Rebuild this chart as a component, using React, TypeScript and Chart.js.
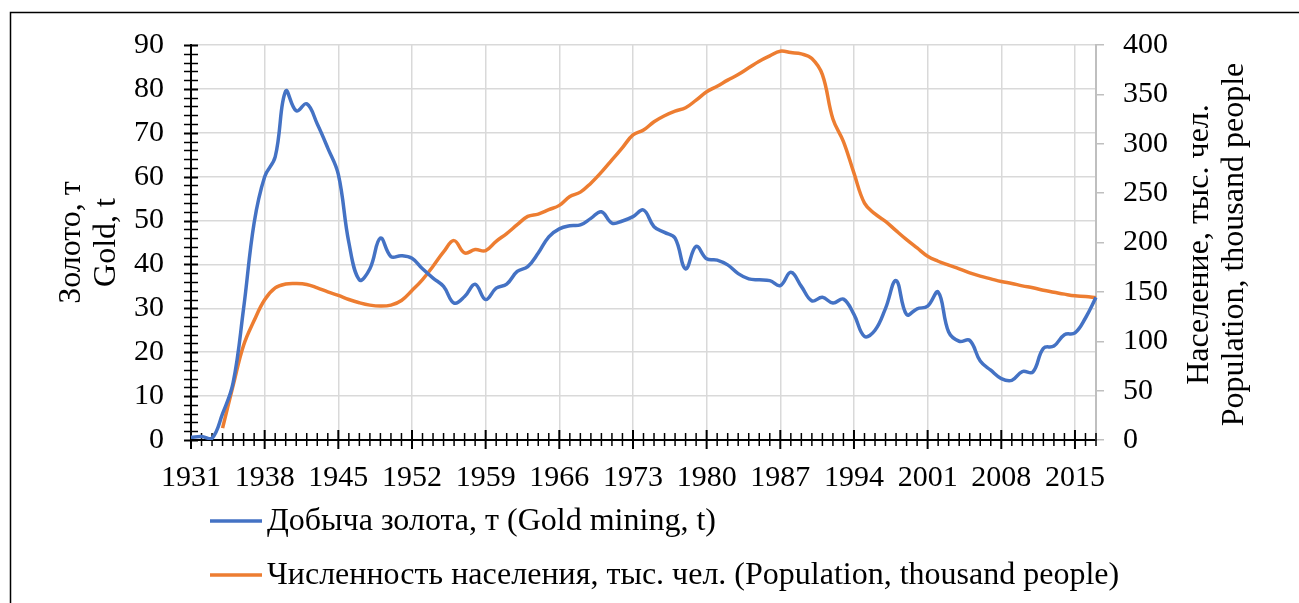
import React, { useEffect, useRef } from 'react';
import { Chart, registerables } from 'chart.js';

Chart.register(...registerables);

const years: string[] = [
  '1931', '1932', '1933', '1934', '1935', '1936', '1937', '1938', '1939', '1940',
  '1941', '1942', '1943', '1944', '1945', '1946', '1947', '1948', '1949', '1950',
  '1951', '1952', '1953', '1954', '1955', '1956', '1957', '1958', '1959', '1960',
  '1961', '1962', '1963', '1964', '1965', '1966', '1967', '1968', '1969', '1970',
  '1971', '1972', '1973', '1974', '1975', '1976', '1977', '1978', '1979', '1980',
  '1981', '1982', '1983', '1984', '1985', '1986', '1987', '1988', '1989', '1990',
  '1991', '1992', '1993', '1994', '1995', '1996', '1997', '1998', '1999', '2000',
  '2001', '2002', '2003', '2004', '2005', '2006', '2007', '2008', '2009', '2010',
  '2011', '2012', '2013', '2014', '2015', '2016', '2017',
];

const goldMining: number[] = [
  0.6, 0.8, 0.4, 6, 13, 30, 49.5, 60, 64.5, 79.5,
  75, 76.6, 72, 66.5, 60.5, 45, 36.5, 39, 46, 41.8,
  42, 41.4, 39, 36.9, 35, 31.2, 32.7, 35.5, 32, 34.6,
  35.5, 38.4, 39.5, 42.6, 46.3, 48.1, 48.8, 49, 50.5, 52,
  49.4, 49.9, 50.9, 52.4, 48.6, 47.3, 46, 39, 44.1, 41.3,
  41, 39.9, 37.9, 36.7, 36.5, 36.3, 35.2, 38.2, 35, 31.7,
  32.5, 31.2, 32.1, 28.6, 23.6, 25, 30, 36.3, 28.6, 29.9,
  30.5, 33.7, 24.6, 22.5, 22.7, 18, 15.9, 14, 13.6, 15.6,
  15.5, 20.9, 21.4, 24, 24.4, 27.8, 32.5,
];

const population: (number | null)[] = [
  null, null, null, 12, 55, 96, 121, 142, 154, 158,
  158.5, 157.5, 154, 150, 146.4, 142.3, 139, 136.6, 135.6, 136.6,
  141.3, 151.4, 162.5, 176, 190.4, 201.9, 189.4, 192.8, 191.8, 201.2,
  209, 218, 226.4, 228.8, 233.2, 237.6, 246.6, 251, 260.1, 271.2,
  283.6, 296.1, 308.9, 313.9, 322.3, 328.4, 333.1, 336.5, 344.2, 352.6,
  358.3, 364.4, 370.1, 376.9, 383.6, 389, 393.7, 392.3, 391, 386.3,
  370, 325, 302.2, 270.2, 239.9, 229, 221.4, 212, 202.9, 194.5,
  186.1, 181, 177, 173.3, 169.2, 165.9, 163.2, 160.5, 158.5, 156.1,
  154.1, 151.7, 149.7, 147.7, 146, 145.4, 144,
];

const seriesLabels: string[] = [
  'Добыча золота, т (Gold mining, t)',
  'Численность населения, тыс. чел. (Population, thousand people)',
];
const leftTitle: string[] = ['Золото, т', 'Gold, t'];
const rightTitle: string[] = ['Население, тыс. чел.', 'Population, thousand people'];

const FONT = "'Liberation Serif', 'Times New Roman', serif";
const BLUE = '#4472C4';
const ORANGE = '#ED7D31';

const decorPlugin = {
  id: 'decor',
  beforeDatasetsDraw(chart: any) {
    const ctx = chart.ctx;
    const xs = chart.scales.x;
    const ys = chart.scales.y;
    const area = chart.chartArea;
    ctx.save();
    ctx.strokeStyle = '#000';
    for (let v = 0; v <= 90; v += 2) {
      const py = Math.round(ys.getPixelForValue(v)) + 0.5;
      const major = v % 10 === 0;
      ctx.lineWidth = major ? 2 : 1.5;
      ctx.beginPath();
      ctx.moveTo(area.left - 7, py);
      ctx.lineTo(area.left + 7, py);
      ctx.stroke();
    }
    for (let i = 0; i < years.length; i++) {
      const px = xs.getPixelForValue(i);
      const major = i % 7 === 0;
      ctx.lineWidth = major ? 2 : 1.5;
      ctx.beginPath();
      ctx.moveTo(px, area.bottom - (major ? 10 : 7));
      ctx.lineTo(px, area.bottom + (major ? 9 : 6));
      ctx.stroke();
    }
    ctx.restore();
  },
  afterDraw(chart: any) {
    const ctx = chart.ctx;
    const area = chart.chartArea;
    ctx.save();
    // outer frame
    ctx.strokeStyle = '#000';
    ctx.lineWidth = 1.5;
    ctx.strokeRect(10.5, 12.5, 1400, 800);

    // axis titles
    ctx.fillStyle = '#000';
    ctx.font = `32px ${FONT}`;
    ctx.textAlign = 'center';
    ctx.textBaseline = 'middle';
    const cy = (area.top + area.bottom) / 2;
    const leftX = [72, 107];
    leftTitle.forEach((t, i) => {
      ctx.save();
      ctx.translate(leftX[i], cy);
      ctx.rotate(-Math.PI / 2);
      ctx.fillText(t, 0, 0);
      ctx.restore();
    });
    const rightX = [1200, 1235];
    rightTitle.forEach((t, i) => {
      ctx.save();
      ctx.translate(rightX[i], cy + 2);
      ctx.rotate(-Math.PI / 2);
      ctx.fillText(t, 0, 0);
      ctx.restore();
    });

    // legend
    const rowsY = [521, 575];
    chart.data.datasets.forEach((ds: any, i: number) => {
      const yy = rowsY[i];
      ctx.strokeStyle = ds.borderColor;
      ctx.lineWidth = 3.5;
      ctx.beginPath();
      ctx.moveTo(210, yy);
      ctx.lineTo(262, yy);
      ctx.stroke();
      ctx.fillStyle = '#000';
      ctx.textAlign = 'left';
      ctx.textBaseline = 'middle';
      ctx.fillText(ds.label, 267, yy + 1);
    });
    ctx.restore();
  },
};

export default function App() {
  const ref = useRef<HTMLCanvasElement>(null);
  useEffect(() => {
    document.body.style.margin = '0';
    const canvas = ref.current!;
    const chart = new Chart(canvas, {
      type: 'line',
      data: {
        labels: years,
        datasets: [
          {
            label: seriesLabels[0],
            data: goldMining,
            borderColor: BLUE,
            backgroundColor: BLUE,
            borderWidth: 3.5,
            pointRadius: 0,
            tension: 0.4,
            yAxisID: 'y',
          },
          {
            label: seriesLabels[1],
            data: population,
            borderColor: ORANGE,
            backgroundColor: ORANGE,
            borderWidth: 3.5,
            pointRadius: 0,
            tension: 0.4,
            yAxisID: 'y1',
          },
        ],
      },
      options: {
        responsive: false,
        animation: false,
        layout: { padding: { top: 43, left: 0, right: 0, bottom: 0 } },
        plugins: {
          legend: { display: false },
          tooltip: { enabled: false },
          title: { display: false },
        },
        scales: {
          x: {
            type: 'category',
            offset: false,
            afterFit: (s: any) => { s.height = 163; },
            grid: {
              color: (c: any) => (c.index % 7 === 0 ? '#d9d9d9' : 'rgba(0,0,0,0)'),
              lineWidth: 1.5,
              drawTicks: false,
            },
            border: { color: '#000', width: 2 },
            ticks: {
              autoSkip: false,
              maxRotation: 0,
              minRotation: 0,
              padding: 20,
              color: '#000',
              font: { family: FONT, size: 30 },
              callback: (_v: any, i: number) => (i % 7 === 0 ? years[i] : ''),
            },
          },
          y: {
            position: 'left',
            min: 0,
            max: 90,
            afterFit: (s: any) => { s.width = 191; },
            grid: { color: '#d9d9d9', lineWidth: 1.5, drawTicks: false },
            border: { color: '#000', width: 2 },
            ticks: {
              stepSize: 10,
              padding: 27,
              color: '#000',
              font: { family: FONT, size: 30 },
            },
          },
          y1: {
            position: 'right',
            min: 0,
            max: 400,
            afterFit: (s: any) => { s.width = 1299 - 1096; },
            grid: { drawOnChartArea: false, drawTicks: true, tickLength: 8, color: '#bfbfbf', lineWidth: 1.5 },
            border: { color: '#bfbfbf', width: 2 },
            ticks: {
              stepSize: 50,
              padding: 19,
              color: '#000',
              font: { family: FONT, size: 30 },
            },
          },
        },
      },
      plugins: [decorPlugin],
    });
    return () => chart.destroy();
  }, []);
  return <canvas ref={ref} width={1299} height={603} style={{ display: 'block' }} />;
}
